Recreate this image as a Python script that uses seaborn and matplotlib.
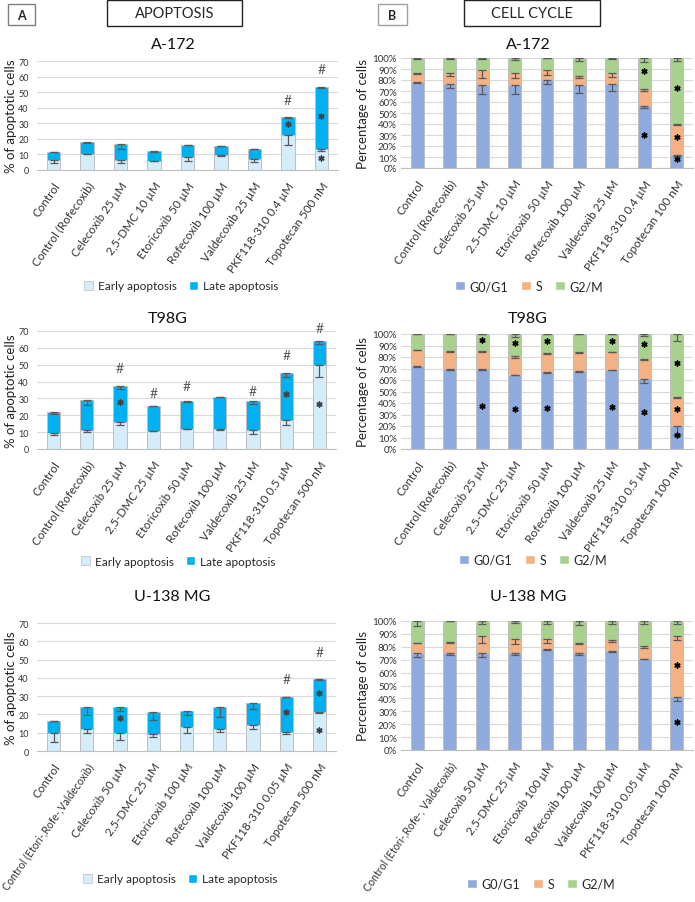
import numpy as np
import seaborn as sns
import matplotlib.pyplot as plt
from matplotlib.patches import Patch, Rectangle

sns.set_style("white")
plt.rcParams['font.family'] = ['Lato', 'DejaVu Sans']

# ---- data: apoptosis (% of cells), errors drawn downward from segment top ----
apo_labels_a172 = ["Control", "Control (Rofecoxib)", "Celecoxib 25 µM", "2,5-DMC 10 µM",
                   "Etoricoxib 50 µM", "Rofecoxib 100 µM", "Valdecoxib 25 µM",
                   "PKF118-310 0.4 µM", "Topotecan 500 nM"]
apo_early_a172 = [6.3, 10.5, 6.5, 6.0, 8.3, 9.4, 7.0, 22.5, 13.4]
apo_late_a172 = [5.4, 7.2, 10.0, 5.9, 8.0, 6.0, 6.8, 11.3, 39.9]
apo_early_err_a172 = [1.7, 0.5, 2.0, 0.5, 2.5, 0.3, 1.7, 6.3, 1.3]
apo_late_err_a172 = [0.3, 0.3, 3.0, 0.5, 0.5, 0.3, 0.2, 0.4, 0.6]
apo_stars_a172 = [(7, 29.5), (8, 35), (8, 8)]
apo_hash_a172 = [(7, 45), (8, 65)]

apo_labels_t98g = ["Control", "Control (Rofecoxib)", "Celecoxib 25 µM", "2,5-DMC 25 µM",
                   "Etoricoxib 50 µM", "Rofecoxib 100 µM", "Valdecoxib 25 µM",
                   "PKF118-310 0.5 µM", "Topotecan 500 nM"]
apo_early_t98g = [9.7, 11.4, 16.0, 10.9, 12.0, 11.7, 11.3, 17.4, 49.8]
apo_late_t98g = [12.0, 17.6, 21.4, 14.6, 16.3, 19.1, 17.4, 27.9, 14.4]
apo_early_err_t98g = [1.4, 1.5, 2.0, 0.3, 0.3, 0.5, 2.3, 3.4, 7.1]
apo_late_err_t98g = [0.8, 3.0, 2.0, 0.2, 0.2, 0.2, 2.2, 2.6, 1.7]
apo_stars_t98g = [(2, 28), (7, 32.6), (8, 26.5)]
apo_hash_t98g = [(2, 48), (3, 33.2), (4, 37.2), (6, 34.4), (7, 56), (8, 72)]

apo_labels_u138 = ["Control", "Control (Etori-,Rofe-,Valdecoxib)", "Celecoxib 50 µM",
                   "2,5-DMC 25 µM", "Etoricoxib 100 µM", "Rofecoxib 100 µM",
                   "Valdecoxib 100 µM", "PKF118-310 0.05 µM", "Topotecan 500 nM"]
apo_early_u138 = [9.9, 11.9, 9.9, 9.3, 13.0, 12.1, 14.1, 10.6, 21.2]
apo_late_u138 = [6.6, 11.9, 13.9, 12.1, 9.0, 12.0, 12.2, 19.2, 18.3]
apo_early_err_u138 = [4.8, 2.2, 3.7, 1.4, 3.1, 1.5, 2.0, 1.1, 0.3]
apo_late_err_u138 = [0.2, 3.9, 1.9, 4.2, 2.3, 5.3, 3.3, 0.2, 0.4]
apo_stars_u138 = [(2, 17.9), (7, 21.6), (8, 31.8), (8, 11.7)]
apo_hash_u138 = [(7, 39.3), (8, 53.9)]

# ---- data: cell cycle (% of cells) ----
cc_labels_a172 = ["Control", "Control (Rofecoxib)", "Celecoxib 25 µM", "2.5-DMC 10 µM",
                  "Etoricoxib 50 µM", "Rofecoxib 100 µM", "Valdecoxib 25 µM",
                  "PKF118-310 0.4 µM", "Topotecan 100 nM"]
cc_g0_a172 = [78.3, 76.5, 75.6, 75.6, 80.0, 75.3, 76.8, 56.0, 12.0]
cc_s_a172 = [8.1, 9.9, 13.4, 11.1, 9.0, 8.7, 9.9, 16.0, 28.4]
cc_g2m_a172 = [13.6, 13.6, 11.0, 13.3, 11.0, 16.0, 13.3, 28.0, 59.6]
cc_g0_err_a172 = [1.0, 4.0, 8.0, 8.0, 4.0, 7.5, 6.5, 1.0, 1.5]
cc_s_err_a172 = [1.0, 3.0, 7.5, 5.0, 4.0, 2.0, 4.0, 2.0, 1.5]
cc_g2m_err_a172 = [0.5, 1.0, 0.5, 2.0, 0.3, 3.0, 1.0, 4.0, 3.0]
cc_stars_a172 = [(7, 88), (7, 30), (8, 73), (8, 28.5), (8, 8)]

cc_labels_t98g = ["Control", "Control (Rofecoxib)", "Celecoxib 25 µM", "2.5-DMC 25 µM",
                  "Etoricoxib 50 µM", "Rofecoxib 100 µM", "Valdecoxib 25 µM",
                  "PKF118-310 0.5 µM", "Topotecan 100 nM"]
cc_g0_t98g = [72.2, 69.3, 69.3, 64.6, 66.7, 68.0, 69.0, 61.0, 20.0]
cc_s_t98g = [14.2, 15.9, 15.6, 16.0, 16.8, 16.0, 15.6, 17.3, 25.0]
cc_g2m_t98g = [13.6, 14.8, 15.1, 19.4, 16.5, 16.0, 15.4, 21.7, 55.0]
cc_g0_err_t98g = [0.5, 0.5, 0.5, 0.5, 1.0, 1.0, 0.5, 3.5, 8.0]
cc_s_err_t98g = [0.5, 0.5, 0.5, 1.5, 0.5, 0.5, 0.5, 0.8, 0.5]
cc_g2m_err_t98g = [0.3, 0.3, 0.3, 2.3, 0.3, 0.3, 0.3, 1.5, 6.5]
cc_stars_t98g = [(2, 94.5), (2, 37), (3, 92.5), (3, 34.5), (4, 93.5), (4, 35.5),
                 (6, 94), (6, 36.5), (7, 91), (7, 32.5), (8, 74.5), (8, 34.5), (8, 12)]

cc_labels_u138 = ["Control", "Control (Etori-,Rofe-, Valdecoxib)", "Celecoxib 50 µM",
                  "2,5-DMC 25 µM", "Etoricoxib 100 µM", "Rofecoxib 100 µM",
                  "Valdecoxib 100 µM", "PKF118-310 0.05 µM", "Topotecan 100 nM"]
cc_g0_u138 = [75.1, 75.4, 75.1, 75.1, 78.0, 75.1, 76.4, 70.7, 40.9]
cc_s_u138 = [8.1, 8.3, 13.0, 10.9, 8.0, 8.1, 8.6, 9.9, 47.4]
cc_g2m_u138 = [16.8, 16.3, 11.9, 14.0, 14.0, 16.8, 15.0, 19.4, 11.7]
cc_g0_err_u138 = [3.0, 1.5, 3.3, 1.5, 0.5, 1.5, 0.5, 0.3, 3.0]
cc_s_err_u138 = [0.5, 0.8, 5.2, 3.6, 3.0, 1.0, 1.5, 1.6, 2.8]
cc_g2m_err_u138 = [3.6, 0.2, 2.0, 1.5, 2.5, 3.0, 2.0, 2.0, 2.0]
cc_stars_u138 = [(8, 66), (8, 22)]

EARLY_C = "#d5ecfa"
LATE_C = "#00b0f0"
G0_C = "#8faadc"
S_C = "#f4b183"
G2M_C = "#a9d18e"
EDGE_C = "#bfbfbf"
ERR_C = "#595959"
GRID_C = "#d9d9d9"

W, H = 695, 903
fig = plt.figure(figsize=(W / 100, H / 100), dpi=100)


def px_axes(x0, x1, ytop, ybot):
    return fig.add_axes([x0 / W, 1 - ybot / H, (x1 - x0) / W, (ybot - ytop) / H])


def style_axes(ax, labels, ymax, step, ylabel, lab_x, tick_fs, tick_pad):
    n = len(labels)
    ax.set_xlim(-0.5, n - 0.5)
    ax.set_ylim(0, ymax)
    ax.set_yticks(np.arange(0, ymax + 0.1, step))
    ax.yaxis.grid(True, color=GRID_C, linewidth=0.8)
    ax.set_axisbelow(True)
    for s in ["top", "right", "left"]:
        ax.spines[s].set_visible(False)
    ax.spines["bottom"].set_color(EDGE_C)
    ax.tick_params(axis="both", length=0, labelcolor="#333333")
    ax.tick_params(axis="y", labelsize=tick_fs, pad=tick_pad)
    ax.set_xticks(np.arange(n))
    ax.set_xticklabels(labels, rotation=55, ha="right", rotation_mode="anchor",
                       fontsize=8.4, color="#333333")
    # the very long control label is shrunk a touch so it stays inside the figure
    for t in ax.get_xticklabels():
        if len(t.get_text()) > 25:
            t.set_fontsize(7.6)
    ax.tick_params(axis="x", pad=7)
    ax.set_xlabel("")
    ax.set_ylabel(ylabel, fontsize=9.5, color="#222222")
    ax.yaxis.set_label_coords(lab_x, 0.5)


def down_err(ax, tops, errs):
    n = len(tops)
    ax.errorbar(np.arange(n), tops, yerr=[errs, [0] * n], fmt="none", ecolor=ERR_C,
                elinewidth=0.9, capsize=2.6, capthick=0.9, zorder=5)


def star_marks(ax, stars, color):
    ax.scatter([p[0] for p in stars], [p[1] for p in stars], marker=(6, 2, 0),
               s=13, linewidths=1.1, color=color, zorder=6)


def apoptosis_panel(ax, labels, early, late, e_err, l_err, stars, hashes, lab_x):
    total = [a + b for a, b in zip(early, late)]
    sns.barplot(x=labels, y=total, order=labels, color=LATE_C, saturation=1, width=0.4,
                edgecolor=EDGE_C, linewidth=0.7, errorbar=None, ax=ax)
    sns.barplot(x=labels, y=early, order=labels, color=EARLY_C, saturation=1, width=0.4,
                edgecolor=EDGE_C, linewidth=0.7, errorbar=None, ax=ax)
    down_err(ax, early, e_err)
    down_err(ax, total, l_err)
    star_marks(ax, stars, "#404040")
    for i, y in hashes:
        ax.text(i, y, "#", ha="center", va="center", fontsize=10, color="#595959",
                clip_on=False)
    style_axes(ax, labels, 70, 10, "% of apoptotic cells", lab_x, 6.5, 6)


def cycle_panel(ax, labels, g0, s, g2m, g0_err, s_err, g2m_err, stars, lab_x):
    s_top = [a + b for a, b in zip(g0, s)]
    full = [a + b for a, b in zip(s_top, g2m)]
    sns.barplot(x=labels, y=full, order=labels, color=G2M_C, saturation=1, width=0.4,
                edgecolor=EDGE_C, linewidth=0.7, errorbar=None, ax=ax)
    sns.barplot(x=labels, y=s_top, order=labels, color=S_C, saturation=1, width=0.4,
                edgecolor=EDGE_C, linewidth=0.7, errorbar=None, ax=ax)
    sns.barplot(x=labels, y=g0, order=labels, color=G0_C, saturation=1, width=0.4,
                edgecolor=EDGE_C, linewidth=0.7, errorbar=None, ax=ax)
    down_err(ax, g0, g0_err)
    down_err(ax, s_top, s_err)
    down_err(ax, full, g2m_err)
    star_marks(ax, stars, "black")
    style_axes(ax, labels, 100, 10, "Percentage of cells", lab_x, 7, 3)
    ax.set_yticklabels([f"{v}%" for v in range(0, 101, 10)])


apo_handles = [Patch(facecolor=EARLY_C, edgecolor=EDGE_C, linewidth=0.5, label="Early apoptosis"),
               Patch(facecolor=LATE_C, label="Late apoptosis")]
cc_handles = [Patch(facecolor=G0_C, label="G0/G1"), Patch(facecolor=S_C, label="S"),
              Patch(facecolor=G2M_C, label="G2/M")]


def legend_at(handles, cx, cy, fs):
    fig.legend(handles=handles, loc="center", bbox_to_anchor=(cx / W, 1 - cy / H),
               ncol=len(handles), frameon=False, fontsize=fs, handlelength=0.8,
               handleheight=0.8, handletextpad=0.4, columnspacing=1.0, borderpad=0)


def title_at(text, cx, cy):
    fig.text(cx / W, 1 - cy / H, text, ha="center", va="center", fontsize=11.5, color="#111111")


# header boxes
def header_box(x0, x1, y0, y1, text, bold, edge):
    fig.patches.append(Rectangle((x0 / W, 1 - y1 / H), (x1 - x0) / W, (y1 - y0) / H,
                                 transform=fig.transFigure, facecolor="white",
                                 edgecolor=edge, linewidth=1.0))
    fig.text((x0 + x1) / 2 / W, 1 - (y0 + y1) / 2 / H, text, ha="center", va="center",
             fontsize=9 if bold else 10.5, fontweight="bold" if bold else "normal")


header_box(8, 35, 5, 26, "A", True, "#7f7f7f")
header_box(107, 242, 1, 27, "APOPTOSIS", False, "#222222")
header_box(378, 407, 5, 26, "B", True, "#a0a0a0")
header_box(464, 600, 1, 27, "CELL CYCLE", False, "#222222")

# row 1: A-172
ax = px_axes(37, 338, 62, 171)
apoptosis_panel(ax, apo_labels_a172, apo_early_a172, apo_late_a172, apo_early_err_a172,
                apo_late_err_a172, apo_stars_a172, apo_hash_a172, -0.068)
ax = px_axes(401, 693, 59, 169)
cycle_panel(ax, cc_labels_a172, cc_g0_a172, cc_s_a172, cc_g2m_a172, cc_g0_err_a172,
            cc_s_err_a172, cc_g2m_err_a172, cc_stars_a172, -0.108)
title_at("A-172", 173, 45)
title_at("A-172", 528, 45)
legend_at(apo_handles, 181, 287, 8.5)
legend_at(cc_handles, 529, 287, 9)

# row 2: T98G
ax = px_axes(37, 336, 332, 450)
apoptosis_panel(ax, apo_labels_t98g, apo_early_t98g, apo_late_t98g, apo_early_err_t98g,
                apo_late_err_t98g, apo_stars_t98g, apo_hash_t98g, -0.068)
ax = px_axes(401, 693, 335, 450)
cycle_panel(ax, cc_labels_t98g, cc_g0_t98g, cc_s_t98g, cc_g2m_t98g, cc_g0_err_t98g,
            cc_s_err_t98g, cc_g2m_err_t98g, cc_stars_t98g, -0.108)
title_at("T98G", 168, 319)
title_at("T98G", 528, 319)
legend_at(apo_handles, 178, 562, 8.5)
legend_at(cc_handles, 533, 561, 9)

# row 3: U-138 MG
ax = px_axes(37, 336, 624, 752)
apoptosis_panel(ax, apo_labels_u138, apo_early_u138, apo_late_u138, apo_early_err_u138,
                apo_late_err_u138, apo_stars_u138, apo_hash_u138, -0.068)
ax = px_axes(401, 693, 622, 751)
cycle_panel(ax, cc_labels_u138, cc_g0_u138, cc_s_u138, cc_g2m_u138, cc_g0_err_u138,
            cc_s_err_u138, cc_g2m_err_u138, cc_stars_u138, -0.108)
title_at("U-138 MG", 172, 597)
title_at("U-138 MG", 528, 597)
legend_at(apo_handles, 180, 880, 8.5)
legend_at(cc_handles, 541, 885, 9)

fig.savefig("out.png", dpi=100)
